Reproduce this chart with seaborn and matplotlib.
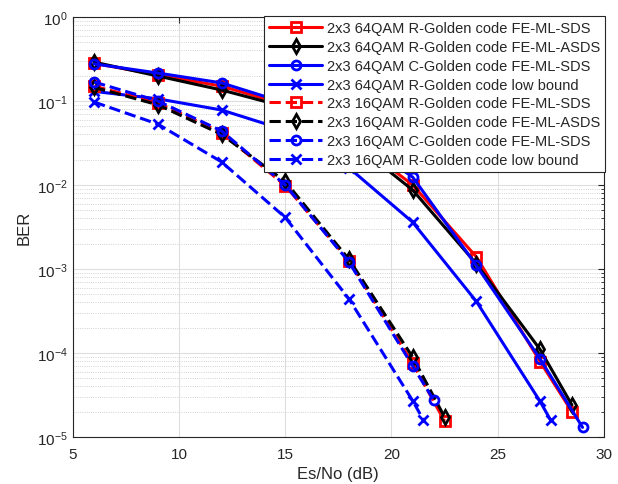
import numpy as np
import pandas as pd
import matplotlib
matplotlib.use('Agg')
import matplotlib.pyplot as plt
import seaborn as sns
from matplotlib.ticker import LogLocator, LogFormatterMathtext, NullFormatter

# Es/No points (dB) and BER values
snr_64 = [6, 9, 12, 15, 18, 21, 24, 27, 28.5]
ber_64_r_sds = [0.28, 0.205, 0.15, 0.09, 0.038, 0.0100, 1.39e-3, 7.9e-5, 2.0e-5]
ber_64_r_asds = [0.29, 0.198, 0.135, 0.085, 0.035, 0.0087, 1.15e-3, 1.1e-4, 2.4e-5]
snr_64_c = [6, 9, 12, 15, 18, 21, 24, 27, 29]
ber_64_c_sds = [0.276, 0.215, 0.164, 0.095, 0.042, 0.0124, 1.1e-3, 8.5e-5, 1.3e-5]
snr_64_lb = [6, 9, 12, 15, 18, 21, 24, 27, 27.5]
ber_64_lb = [0.13, 0.106, 0.078, 0.045, 0.016, 3.6e-3, 4.1e-4, 2.65e-5, 1.58e-5]

snr_16 = [6, 9, 12, 15, 18, 21, 22.5]
ber_16_r_sds = [0.15, 0.095, 0.042, 0.0098, 1.25e-3, 7.5e-5, 1.55e-5]
ber_16_r_asds = [0.145, 0.09, 0.04, 0.011, 1.3e-3, 8.9e-5, 1.73e-5]
snr_16_c = [6, 9, 12, 15, 18, 21, 22]
ber_16_c_sds = [0.168, 0.1, 0.044, 0.01, 1.21e-3, 7.0e-5, 2.73e-5]
snr_16_lb = [6, 9, 12, 15, 18, 21, 21.5]
ber_16_lb = [0.097, 0.053, 0.0188, 0.0041, 4.4e-4, 2.7e-5, 1.6e-5]

labels = [
    '2x3 64QAM R-Golden code FE-ML-SDS',
    '2x3 64QAM R-Golden code FE-ML-ASDS',
    '2x3 64QAM C-Golden code FE-ML-SDS',
    '2x3 64QAM R-Golden code low bound',
    '2x3 16QAM R-Golden code FE-ML-SDS',
    '2x3 16QAM R-Golden code FE-ML-ASDS',
    '2x3 16QAM C-Golden code FE-ML-SDS',
    '2x3 16QAM R-Golden code low bound',
]

series = [
    (snr_64, ber_64_r_sds, '#ff0000', '-', 's'),
    (snr_64, ber_64_r_asds, 'black', '-', 'd'),
    (snr_64_c, ber_64_c_sds, '#0000ff', '-', 'o'),
    (snr_64_lb, ber_64_lb, '#0000ff', '-', 'x'),
    (snr_16, ber_16_r_sds, '#ff0000', '--', 's'),
    (snr_16, ber_16_r_asds, 'black', '--', 'd'),
    (snr_16_c, ber_16_c_sds, '#0000ff', '--', 'o'),
    (snr_16_lb, ber_16_lb, '#0000ff', '--', 'x'),
]

sns.set_style('white')
plt.rcParams['font.family'] = ['Liberation Sans', 'DejaVu Sans']
plt.rcParams['mathtext.fontset'] = 'custom'
plt.rcParams['mathtext.rm'] = 'Liberation Sans'
plt.rcParams['mathtext.it'] = 'Liberation Sans:italic'

fig = plt.figure(figsize=(6.18, 4.85), dpi=100)
ax = fig.add_axes([0.118, 0.097, 0.859, 0.866])

for (x, y, col, ls, mk), lab in zip(series, labels):
    df = pd.DataFrame({'snr': x, 'ber': y})
    sns.lineplot(data=df, x='snr', y='ber', ax=ax, color=col, linestyle=ls,
                 marker=mk, markersize=6.5 if mk != 'd' else 7.5,
                 markerfacecolor='none', markeredgecolor=col,
                 markeredgewidth=2.0, linewidth=2.2, label=lab)

ax.set_yscale('log')
ax.set_xlim(5, 30)
ax.set_ylim(1e-5, 1)
ax.set_xticks([5, 10, 15, 20, 25, 30])
ax.yaxis.set_major_locator(LogLocator(base=10, numticks=10))
ax.yaxis.set_minor_locator(LogLocator(base=10, subs=np.arange(2, 10), numticks=20))
ax.yaxis.set_major_formatter(LogFormatterMathtext())
ax.yaxis.set_minor_formatter(NullFormatter())

ax.grid(which='major', axis='both', color='#dedede', linewidth=0.8, linestyle='-')
ax.grid(which='minor', axis='y', color='#c4c4c4', linewidth=0.6, linestyle=':')
ax.set_axisbelow(True)

ax.tick_params(which='both', direction='in', top=True, right=True,
               labelsize=11, colors='#262626')
ax.tick_params(which='major', length=4)
ax.tick_params(axis='x', which='major', pad=7)
ax.tick_params(which='minor', length=2)
for sp in ax.spines.values():
    sp.set_color('#262626')
    sp.set_linewidth(0.8)

ax.set_xlabel('Es/No (dB)', fontsize=12, color='#262626', labelpad=4)
ax.set_ylabel('BER', fontsize=12, color='#262626')

leg = ax.legend(loc='upper right', bbox_to_anchor=(1.003, 1.002), borderaxespad=0,
                fontsize=10.5, frameon=True, fancybox=False, framealpha=1,
                edgecolor='#262626', handlelength=3.6, labelspacing=0.33,
                handletextpad=0.35, borderpad=0.35)
leg.get_frame().set_linewidth(0.8)

fig.savefig('out.png', dpi=100)
